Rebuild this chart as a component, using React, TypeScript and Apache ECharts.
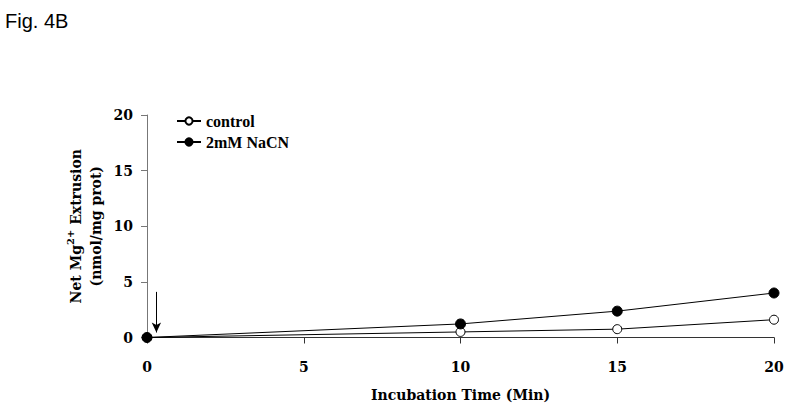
import React, { useEffect, useRef } from "react";
import * as echarts from "echarts";

const times = [0, 10, 15, 20];
const controlValues = [0, 0.5, 0.75, 1.6];
const nacnValues = [0, 1.22, 2.37, 4.0];
const seriesNames = ["control", "2mM NaCN"];
const xTitle = "Incubation Time (Min)";
const figLabel = "Fig. 4B";
const arrowFrom = [0.3, 4.1];
const arrowTo = [0.3, 0.45];

const serif = "'Liberation Serif', 'Times New Roman', serif";
const wideSerif = "'DejaVu Serif', 'Liberation Serif', serif";

export default function App() {
  const ref = useRef<HTMLDivElement>(null);
  useEffect(() => {
    if (!ref.current) return;
    const chart = echarts.init(ref.current, null, { renderer: "svg" });
    const txt = { fontFamily: wideSerif, fontWeight: "bold" as const, fontSize: 14, color: "#000" };
    chart.setOption({
      animation: false,
      backgroundColor: "#fff",
      graphic: [
        {
          type: "text",
          left: 5,
          top: 11,
          style: { text: figLabel, fontFamily: "'Liberation Sans', Arial, sans-serif", fontSize: 20, fill: "#000" },
        },
      ],
      legend: {
        orient: "vertical",
        left: 171,
        top: 108,
        itemGap: 5,
        itemWidth: 24,
        itemHeight: 9,
        textStyle: { fontFamily: serif, fontWeight: "bold", fontSize: 16, color: "#000" },
        data: seriesNames,
      },
      grid: { left: 147, right: 18, top: 115, bottom: 77.5, containLabel: false },
      xAxis: {
        type: "value",
        min: 0,
        max: 20,
        interval: 5,
        name: xTitle,
        nameLocation: "middle",
        nameGap: 50,
        nameTextStyle: { ...txt },
        axisLine: { lineStyle: { color: "#333", width: 1 } },
        axisTick: { show: true, length: 6, lineStyle: { color: "#333" } },
        axisLabel: { ...txt, margin: 22 },
        splitLine: { show: false },
      },
      yAxis: {
        type: "value",
        min: 0,
        max: 20,
        interval: 5,
        name: "{b|Net Mg}{sup|2+}{b| Extrusion}\n{b|(nmol/mg prot)}",
        nameLocation: "middle",
        nameRotate: 90,
        nameGap: 40,
        nameTextStyle: {
          rich: {
            b: { ...txt, lineHeight: 20 },
            sup: { ...txt, fontSize: 10, verticalAlign: "top", lineHeight: 20, padding: [0, 0, 8, 0] },
          },
        },
        axisLine: { show: true, lineStyle: { color: "#777", width: 1 } },
        axisTick: { show: true, length: 6, lineStyle: { color: "#777" } },
        axisLabel: { ...txt, margin: 14 },
        splitLine: { show: false },
      },
      series: [
        {
          name: seriesNames[0],
          type: "line",
          data: times.map((t, i) => [t, controlValues[i]]),
          symbol: "circle",
          symbolSize: 9,
          lineStyle: { color: "#000", width: 1 },
          itemStyle: { color: "#fff", borderColor: "#000", borderWidth: 1 },
          z: 2,
        },
        {
          name: seriesNames[1],
          type: "line",
          data: times.map((t, i) => [t, nacnValues[i]]),
          symbol: "circle",
          symbolSize: 10,
          lineStyle: { color: "#000", width: 1 },
          itemStyle: { color: "#000", borderColor: "#000", borderWidth: 1 },
          z: 3,
          markLine: {
            silent: true,
            symbol: ["none", "arrow"],
            symbolSize: [7, 10],
            label: { show: false },
            lineStyle: { color: "#000", width: 1, type: "solid" },
            data: [[{ coord: arrowFrom }, { coord: arrowTo }]],
          },
        },
      ],
    });
    return () => chart.dispose();
  }, []);
  return <div ref={ref} style={{ position: "fixed", left: 0, top: 0, width: 792, height: 415 }} />;
}
